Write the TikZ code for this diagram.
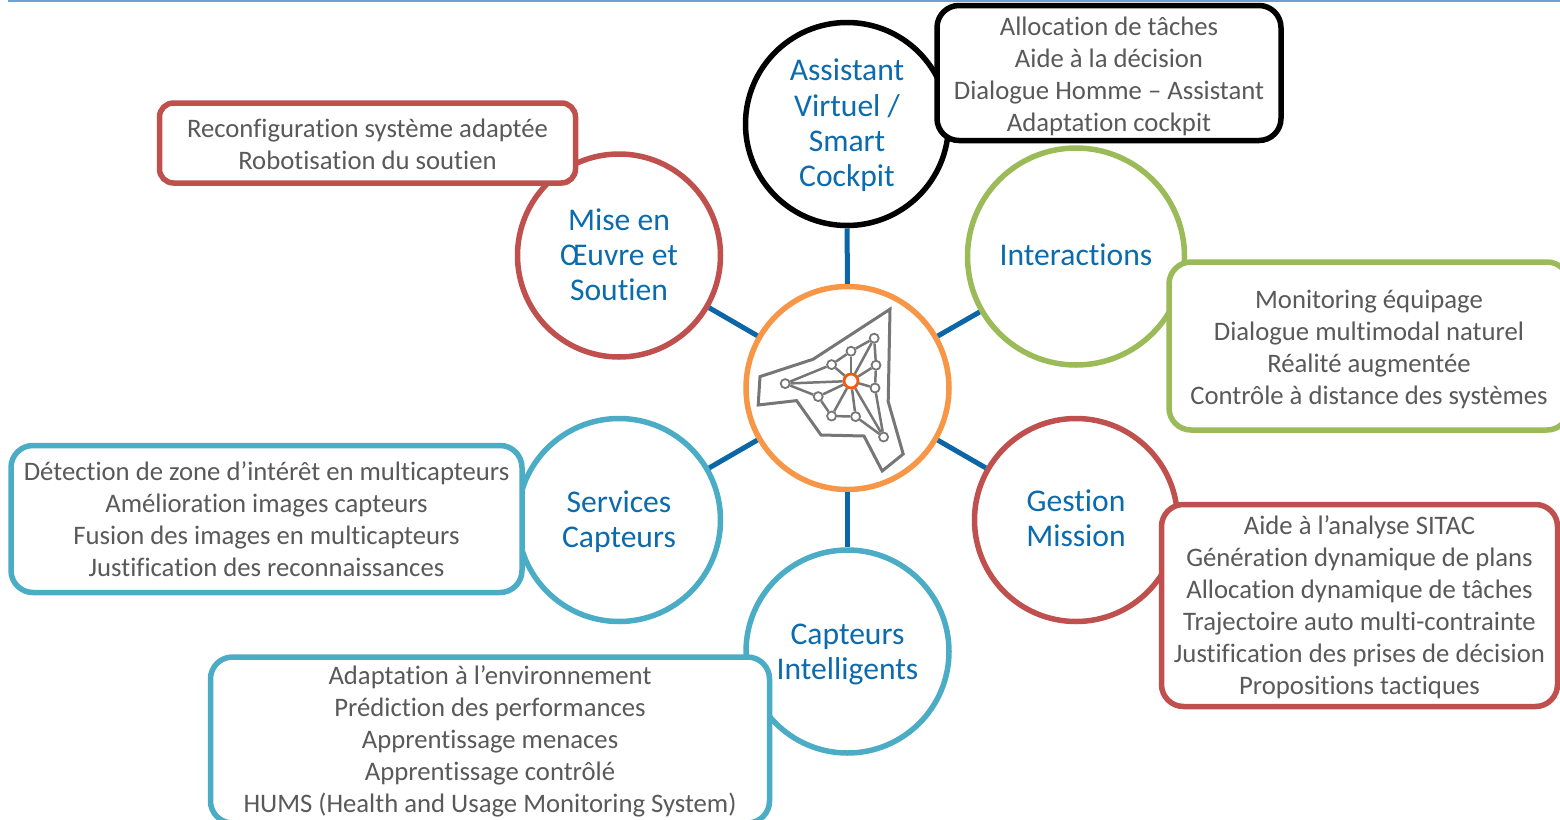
\documentclass[tikz,border=0pt]{standalone}
\usepackage{fontspec}
\setmainfont[Ligatures=NoCommon,RawFeature=-liga]{Carlito}
\definecolor{spokeblue}{HTML}{0A66A6}
\definecolor{titleblue}{HTML}{0B6BAC}
\definecolor{textgray}{HTML}{595959}
\definecolor{icongray}{HTML}{767676}
\definecolor{ruleblue}{HTML}{6F9FD8}
\definecolor{hubor}{HTML}{F79646}
\definecolor{dotor}{HTML}{F25A12}
\definecolor{redc}{HTML}{C0504D}
\definecolor{greenc}{HTML}{9BBB59}
\definecolor{bluec}{HTML}{4BACC6}
\newcommand{\toppad}[1]{\rule{0pt}{#1pt}}
\newcommand{\botpad}[1]{\rule[-#1pt]{0pt}{#1pt}}
\tikzset{
	topic/.style={circle, minimum size=101.5pt, inner sep=0pt, fill=white, line width=2.75pt, text=titleblue, align=center, font=\fontsize{15.8}{17.6}\selectfont},
	detail/.style={rectangle, rounded corners=11pt, inner sep=0pt, fill=white, line width=2.75pt, text=textgray, align=center, font=\fontsize{13.35}{16}\selectfont},
	dot/.style={circle, minimum size=4.5pt, inner sep=0pt, fill=white, line width=0.9pt, draw=icongray}
}
\begin{document}
\begin{tikzpicture}[
	every edge/.style={draw,line width=2.5pt,color=spokeblue}
]
\useasboundingbox (0pt,0pt) rectangle (780pt,-410pt);
\node (rule1) [coordinate] at (4pt,-0.4pt) {};
\node (rule2) [coordinate] at (780pt,-0.4pt) {};
\draw[ruleblue,line width=0.8pt] (rule1) -- (rule2);
\node (hub) [circle, minimum size=101.5pt, fill=white, line width=2.75pt, draw=hubor] at (423.75pt, -194pt) {};
\node (assistant) [topic, draw=black] at (423.5pt, -62pt) {\toppad{12.2}Assistant\\Virtuel /\\Smart\\Cockpit};
\node (interactions) [topic, draw=greenc, minimum size=108.5pt] at (538pt, -128.25pt) {Interactions\botpad{2}};
\node (gestion) [topic, draw=redc] at (538pt, -260pt) {Gestion\\Mission\botpad{2}};
\node (capteurs) [topic, draw=bluec] at (423.75pt, -325.75pt) {\toppad{13.5}Capteurs\\Intelligents};
\node (services) [topic, draw=bluec] at (309.5pt, -260pt) {\toppad{12.5}Services\\Capteurs};
\node (mise) [topic, draw=redc] at (309.5pt, -127.75pt) {Mise en\\Œuvre et\\Soutien\botpad{1}};
\path
(hub) edge (assistant)
(hub) edge (interactions)
(hub) edge (gestion)
(hub) edge (capteurs)
(hub) edge (services)
(hub) edge (mise);
\node (assistantbox) [detail, draw=black, minimum width=172pt, minimum height=67.5pt] at (554.5pt, -36.5pt) {\toppad{13}Allocation de tâches\\Aide à la décision\\Dialogue Homme – Assistant\\Adaptation cockpit};
\node (misebox) [detail, draw=redc, minimum width=208pt, minimum height=40pt, rounded corners=7pt] at (183.75pt, -71.5pt) {\toppad{11}Reconfiguration système adaptée\\Robotisation du soutien};
\node (interactionsbox) [detail, draw=greenc, minimum width=200pt, minimum height=84pt] at (684.5pt, -173pt) {\toppad{12.5}Monitoring équipage\\Dialogue multimodal naturel\\Réalité augmentée\\Contrôle à distance des systèmes};
\node (gestionbox) [detail, draw=redc, minimum width=198pt, minimum height=101pt] at (679.75pt, -302.75pt) {\toppad{11}Aide à l’analyse SITAC\\Génération dynamique de plans\\Allocation dynamique de tâches\\Trajectoire auto multi-contrainte\\Justification des prises de décision\\Propositions tactiques};
\node (servicesbox) [detail, draw=bluec, minimum width=255.5pt, minimum height=73.5pt] at (133.25pt, -259.5pt) {Détection de zone d’intérêt en multicapteurs\\Amélioration images capteurs\\Fusion des images en multicapteurs\\Justification des reconnaissances};
\node (capteursbox) [detail, draw=bluec, minimum width=279.5pt, minimum height=83pt] at (245pt, -370pt) {\toppad{11}Adaptation à l’environnement\\Prédiction des performances\\Apprentissage menaces\\Apprentissage contrôlé\\HUMS (Health and Usage Monitoring System)};
% icon
\draw[icongray, line width=1.5pt] (445pt,-154.6pt) -- (406.6pt,-179.6pt) -- (380pt,-188.3pt) -- (379.1pt,-202.5pt) -- (398.3pt,-200.3pt) -- (410.5pt,-217.5pt) -- (432pt,-218pt) -- (441.1pt,-235.5pt) -- (451.6pt,-227pt) -- (444.1pt,-200.8pt) -- cycle;
\node (d1) [dot] at (437.1pt, -169.1pt) {};
\node (d2) [dot] at (425.5pt, -175.6pt) {};
\node (d3) [dot] at (415.8pt, -182.3pt) {};
\node (d4) [dot] at (392.6pt, -191.8pt) {};
\node (d5) [dot] at (409.1pt, -198.3pt) {};
\node (d6) [dot] at (415.8pt, -208pt) {};
\node (d7) [dot] at (427.8pt, -208.3pt) {};
\node (d8) [dot] at (441.8pt, -218.5pt) {};
\node (d9) [dot] at (437.5pt, -194pt) {};
\node (d10) [dot] at (438pt, -182.6pt) {};
\node (core) [circle, minimum size=7pt, inner sep=0pt, fill=white, line width=1.4pt, draw=dotor] at (425.5pt, -190.5pt) {};
\path[every edge/.style={draw,line width=1.25pt,color=icongray}]
(d4) edge (d3)
(d3) edge (d2)
(d2) edge (d1)
(d1) edge (d10)
(d10) edge (d9)
(d4) edge (d5)
(d5) edge (d6)
(d6) edge (d7)
(d7) edge (d8)
(d8) edge (d9)
(d4) edge (core)
(d1) edge (core)
(d2) edge (core)
(d3) edge (core)
(d5) edge (core)
(d6) edge (core)
(d7) edge (core)
(d8) edge (core)
(d9) edge (core)
(d10) edge (core);
\end{tikzpicture}
\end{document}
